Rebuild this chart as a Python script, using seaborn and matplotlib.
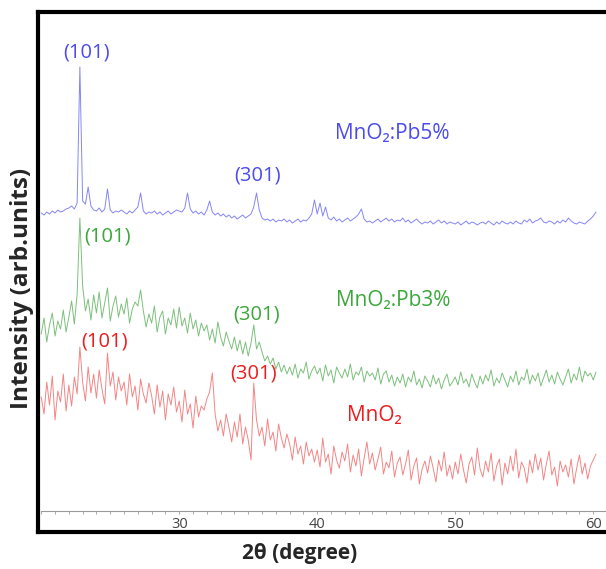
import numpy as np
import matplotlib
matplotlib.use("Agg")
import matplotlib.pyplot as plt
from matplotlib.ticker import MultipleLocator
import seaborn as sns

# 2theta grid, 0.2 degree step from 20 to 60.2
two_theta = np.round(np.linspace(20.0, 60.2, 202), 1)

# intensities (arb. units), one row = 2 degrees
pb5 = [
    319, 317, 320, 318, 321, 319, 322, 320, 321, 323,
    324, 326, 323, 329, 465, 331, 328, 345, 326, 322,
    321, 324, 320, 323, 343, 322, 319, 321, 320, 322,
    320, 318, 321, 319, 322, 325, 339, 321, 318, 320,
    319, 321, 318, 320, 317, 319, 321, 318, 320, 322,
    321, 320, 324, 339, 323, 319, 321, 318, 320, 317,
    322, 331, 320, 317, 319, 316, 318, 315, 317, 314,
    316, 313, 315, 317, 314, 316, 318, 325, 339, 322,
    314, 312, 313, 311, 313, 310, 312, 311, 313, 310,
    312, 309, 311, 313, 310, 312, 311, 314, 318, 332,
    318, 329, 316, 325, 314, 312, 315, 311, 313, 310,
    312, 314, 311, 313, 315, 318, 323, 313, 310, 311,
    309, 311, 313, 310, 312, 314, 311, 313, 310, 312,
    311, 314, 310, 312, 309, 311, 313, 310, 308, 310,
    309, 311, 308, 310, 312, 309, 311, 308, 310, 309,
    308, 310, 307, 309, 311, 308, 310, 309, 307, 309,
    310, 308, 311, 309, 307, 310, 308, 311, 309, 308,
    310, 308, 311, 309, 308, 312, 310, 313, 309, 311,
    312, 314, 310, 309, 311, 310, 308, 311, 309, 312,
    310, 314, 311, 309, 308, 310, 309, 308, 311, 313,
    316, 320,
]

pb3 = [
    198, 214, 190, 207, 219, 196, 211, 203, 222, 200,
    215, 231, 208, 238, 314, 246, 221, 233, 212, 237,
    219, 240, 214, 229, 244, 211, 226, 236, 215, 228,
    218, 234, 209, 223, 230, 226, 242, 221, 205, 218,
    209, 226, 200, 215, 221, 198, 214, 207, 223, 204,
    225, 206, 214, 199, 219, 203, 212, 196, 209, 201,
    207, 192, 203, 189, 210, 195, 186, 200, 191, 183,
    195, 181, 192, 178, 190, 176, 189, 207, 183, 190,
    180, 171, 176, 168, 174, 163, 170, 160, 167, 158,
    165, 157, 168, 154, 163, 159, 170, 153, 161, 166,
    158, 164, 151, 167, 156, 162, 149, 165, 159, 154,
    163, 155, 168, 152, 160, 157, 165, 150, 161, 156,
    159, 152, 164, 148, 158, 161, 150, 157, 146, 155,
    149, 158, 145, 155, 150, 161, 147, 153, 144, 156,
    151, 145, 157, 148, 154, 143, 152, 158, 146, 150,
    155, 147, 160, 149, 153, 145, 158, 150, 144, 156,
    148, 157, 151, 162, 146, 154, 149, 159, 152, 145,
    156, 150, 161, 147, 155, 152, 163, 148, 157, 151,
    159, 146, 154, 162, 150, 157, 148, 160, 153, 147,
    155, 163, 149, 158, 152, 165, 150, 161, 156, 159,
    152, 160,
]

mno2 = [
    135, 118, 150, 127, 156, 112, 141, 130, 158, 121,
    147, 126, 155, 138, 185, 150, 131, 165, 139, 158,
    134, 162, 143, 128, 179, 146, 160, 132, 155, 141,
    150, 127, 158, 135, 146, 122, 153, 138, 129, 149,
    136, 118, 147, 125, 141, 112, 138, 127, 145, 120,
    131, 110, 142, 118, 128, 104, 136, 115, 126, 122,
    133, 140, 159, 118, 101, 112, 96, 118, 105, 90,
    110, 95, 118, 88, 105, 92, 72, 149, 112, 96,
    105, 86, 113, 92, 100, 81, 108, 94, 84, 98,
    88, 72, 95, 78, 86, 68, 90, 76, 83, 70,
    82, 65, 94, 70, 78, 58, 86, 72, 64, 80,
    71, 88, 60, 77, 66, 83, 56, 74, 90, 68,
    79, 62, 73, 85, 58, 70, 64, 81, 55, 69,
    75, 57, 68, 82, 52, 66, 74, 48, 63, 71,
    59, 76, 64, 50, 72, 61, 80, 56, 67, 53,
    70, 58, 78, 62, 49, 68, 75, 57, 84, 63,
    55, 71, 60, 79, 51, 66, 73, 47, 69, 58,
    76, 61, 83, 54, 70, 64, 49, 72, 59, 78,
    62, 74, 52, 68, 81, 57, 65, 46, 71, 60,
    67, 55, 73, 48, 64, 77, 58, 69, 53, 66,
    72, 78,
]

series = [("MnO\u2082:Pb5%", pb5, "#8585f6", "#4b4bef", 41.28, 399),
          ("MnO\u2082:Pb3%", pb3, "#7cc07c", "#3aa83a", 41.36, 232),
          ("MnO\u2082", mno2, "#f48585", "#ee1c1c", 42.15, 117)]

# (hkl) labels: text, x, y, colour
peak_labels = [("(101)", 23.31, 480, "#4b4bef"), ("(301)", 35.70, 357, "#4b4bef"),
               ("(101)", 24.83, 296, "#3aa83a"), ("(301)", 35.63, 218, "#3aa83a"),
               ("(101)", 24.62, 191, "#ee1c1c"), ("(301)", 35.41, 159, "#ee1c1c")]

sns.set_style("white")
plt.rcParams["font.family"] = ["Open Sans", "DejaVu Sans"]

fig = plt.figure(figsize=(6.06, 5.69), dpi=100)
ax = fig.add_axes([0.0635, 0.065, 0.9464, 0.9139])

for name, vals, lc, tc, tx, ty in series:
    sns.lineplot(x=two_theta, y=vals, color=lc, lw=0.7, estimator=None, ax=ax)
    ax.text(tx, ty, name, color=tc, fontsize=15, ha="left", va="center")

for txt, x, y, c in peak_labels:
    ax.text(x, y, txt, color=c, fontsize=14.5, ha="center", va="center")

ax.set_xlim(19.80, 61.36)
ax.set_ylim(0, 520)
ax.set_xticks([])
ax.set_yticks([])
ax.set_xlabel("")
ax.set_ylabel("")
for s in ax.spines.values():
    s.set_color("black")
    s.set_linewidth(3)

# thin grey scale line inside the frame
axs = fig.add_axes([0.0635, 0.1019, 0.9464, 0.0001])
axs.set_xlim(19.80, 61.36)
axs.set_facecolor("none")
axs.set_yticks([])
for side in ["left", "right", "top"]:
    axs.spines[side].set_visible(False)
axs.spines["bottom"].set_color("#9a9a9a")
axs.spines["bottom"].set_linewidth(0.8)
axs.spines["bottom"].set_bounds(20.0, 61.36)
axs.xaxis.set_major_locator(MultipleLocator(10))
axs.xaxis.set_minor_locator(MultipleLocator(1))
axs.set_xticks([30, 40, 50, 60])
axs.tick_params(axis="x", which="both", direction="out", length=2.5, width=0.6,
                color="#9a9a9a", labelsize=10.5, labelcolor="#444444", pad=2, bottom=True)

fig.text(22 / 606, 1 - 288 / 569, "Intensity (arb.units)", rotation=90, ha="center",
         va="center", fontsize=17.5, fontweight="bold")
fig.text(300 / 606, 1 - 553 / 569, "2\u03b8 (degree)", ha="center", va="center",
         fontsize=15, fontweight="bold")

fig.savefig("out.png", dpi=100)
